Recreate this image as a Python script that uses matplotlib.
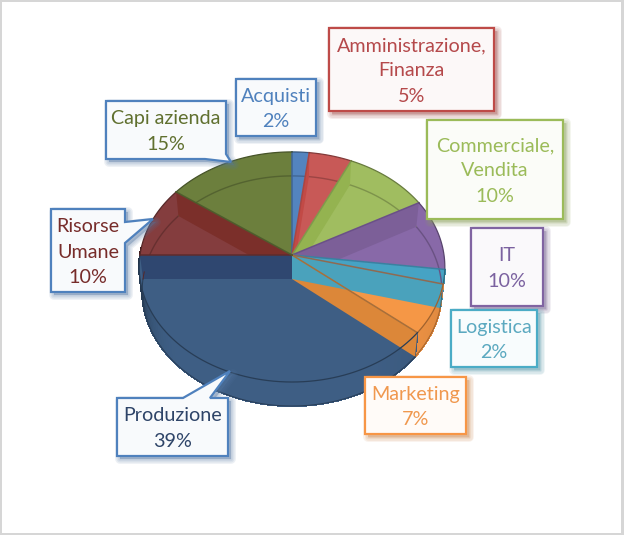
#!/usr/bin/env python3
import numpy as np
import matplotlib
matplotlib.use('Agg')
import matplotlib.pyplot as plt
from matplotlib.colors import to_rgb
from matplotlib.patches import Polygon, Rectangle

plt.rcParams['font.family'] = ['Lato', 'DejaVu Sans']

# data, clockwise from 12 o'clock
categories = ['Acquisti', 'Amministrazione,\nFinanza', 'Commerciale,\nVendita', 'IT', 'Logistica',
              'Marketing', 'Produzione', 'Risorse\nUmane', 'Capi azienda']
values = [2, 5, 10, 10, 2, 7, 39, 10, 15]

# slice colours
top_colors = ['#5384BF', '#C85957', '#A0BD60', '#8869A8', '#46A3C4', '#F59746', '#3E5E84', '#843D3E', '#6C7F3D']
wall_colors = ['#4F7FB8', '#C24A46', '#94B350', '#7C5F98', '#4AA2BC', '#DC8739', '#2F4770', '#7B2F2A', '#5F7035']
edge_colors = ['#3F6596', '#A84643', '#7F9A4B', '#6A5087', '#3A80A0', '#8E6A52', '#A86F3A', '#5F2C2C', '#4E5C2C']
text_colors = ['#4F81BD', '#B5494B', '#9BBB59', '#7B62A0', '#5BA9C0', '#F0984E', '#2E4468', '#772C2A', '#60702F']
border_colors = ['#4F81BD', '#BE4B48', '#9BBB59', '#8064A2', '#4BACC6', '#F79646', '#4F81BD', '#4F81BD', '#4F81BD']

# which radial wall of a slice can be seen, drawn in this order
wall_side = {1: 'start', 2: 'start', 3: 'start', 7: 'end', 6: 'end', 5: 'end', 4: 'end'}

# label boxes in pixels: x0, y0, x1, y1, and the callout tail if there is one
boxes = [
    (236, 79, 316, 136, None),
    (329, 28, 494, 111, None),
    (427, 120, 563, 219, None),
    (471, 228, 543, 306, None),
    (451, 310, 537, 367, None),
    (365, 377, 466, 434, None),
    (117, 398, 228, 456, [(183, 398), (230, 371), (210, 398)]),
    (51, 209, 125, 292, [(125, 222), (153, 219), (125, 243)]),
    (106, 101, 226, 159, [(205, 159), (231, 162), (226, 154)]),
]

# pie geometry, in pixels
CX, CY = 292, 255
A, B, K = 113.8, 152, 0.104
DEPTH = 24
B_LOW = 149


def proj(frac, b=B, dy=0):
    th = 2 * np.pi * np.asarray(frac)
    u, v = np.sin(th), np.cos(th)
    d = 1 + K * v
    return np.column_stack([CX + b * u / d, CY + dy - A * v / d])


def arc(f0, f1, b=B, dy=0):
    n = max(2, int(abs(f1 - f0) * 360))
    return proj(np.linspace(f0, f1, n), b, dy)


def blend(c, other, t):
    c, other = np.array(to_rgb(c)), np.array(to_rgb(other))
    return tuple(c * (1 - t) + other * t)


fig = plt.figure(figsize=(6.24, 5.35), dpi=100, facecolor='white')
ax = fig.add_axes([0, 0, 1, 1])
ax.set_xlim(0, 624)
ax.set_ylim(535, 0)
ax.axis('off')

ax.add_patch(Rectangle((0, 0), 624, 535, fc='#D6D6D6', ec='none', zorder=0))
ax.add_patch(Rectangle((2, 2), 619, 531, fc='white', ec='none', zorder=0))

total = sum(values)
cum = np.concatenate([[0], np.cumsum(values)]) / total
apex = np.array([[CX, CY]])
apex_low = np.array([[CX, CY + DEPTH]])

# front side of the pie, thin strips so it can darken towards the edges
for i in range(len(values)):
    f0, f1 = cum[i], cum[i + 1]
    lo, hi = max(f0, 0.27), min(f1, 0.76)
    if hi <= lo:
        continue
    pts = np.linspace(lo, hi, max(2, int((hi - lo) * 200) + 1))
    for p0, p1 in zip(pts[:-1], pts[1:]):
        mid = (p0 + p1) / 2
        dark = np.clip((mid - 0.62) / 0.13, 0, 1) ** 2 * 0.55
        dark += np.clip((0.42 - mid) / 0.15, 0, 1) * 0.12
        c = blend(top_colors[i], '#000000', dark)
        poly = np.vstack([arc(p0, p1), arc(p1, p0, B_LOW, DEPTH)])
        ax.add_patch(Polygon(poly, fc=c, ec=c, lw=0.8, antialiased=False, zorder=1))

# top faces
sectors = []
for i in range(len(values)):
    poly = np.vstack([apex, arc(cum[i], cum[i + 1])])
    sector = Polygon(poly, fc=top_colors[i], ec='none', zorder=2)
    ax.add_patch(sector)
    sectors.append(sector)

# far rim of the floor, seen through the top faces
for i in range(len(values)):
    lo, hi = cum[i], cum[i + 1]
    for a, b_ in [(max(lo, 0.0), min(hi, 0.27)), (max(lo, 0.76), min(hi, 1.0))]:
        if b_ > a:
            pts = arc(a, b_, B_LOW, DEPTH)
            ax.plot(pts[:, 0], pts[:, 1], color=blend(top_colors[i], '#000000', 0.22),
                    lw=1.0, zorder=2.5, solid_capstyle='butt')

# radial walls
z = 3
for i, side in wall_side.items():
    f = cum[i] if side == 'start' else cum[i + 1]
    wall = np.vstack([apex, proj([f]), proj([f], B_LOW, DEPTH), apex_low])
    patch = Polygon(wall, fc=wall_colors[i], ec='none', zorder=z)
    ax.add_patch(patch)
    if side == 'start' or i == 7:
        patch.set_clip_path(sectors[i])
    z += 0.01

# slice edges and rims
for i in range(len(values)):
    edge = blend(top_colors[i], '#000000', 0.35)
    start = proj([cum[i]])
    ax.plot([CX, start[0, 0]], [CY, start[0, 1]], color=edge_colors[i], lw=1.1, zorder=5)
    rim = arc(cum[i], cum[i + 1])
    ax.plot(rim[:, 0], rim[:, 1], color=edge, lw=0.9, zorder=5)
    if 0.27 < cum[i + 1] and cum[i] < 0.76:
        low = arc(max(cum[i], 0.27), min(cum[i + 1], 0.76), B_LOW, DEPTH)
        ax.plot(low[:, 0], low[:, 1], color=edge, lw=0.7, zorder=5)

# label boxes
for i, (x0, y0, x1, y1, tail) in enumerate(boxes):
    pts = [(x0, y0), (x1, y0), (x1, y1), (x0, y1)]
    if tail is not None:
        # put the tail into the side it leaves from
        if tail[0][1] == y0:
            pts = [(x0, y0)] + tail + [(x1, y0), (x1, y1), (x0, y1)]
        elif tail[0][0] == x1:
            pts = [(x0, y0), (x1, y0)] + tail + [(x1, y1), (x0, y1)]
        else:
            pts = [(x0, y0), (x1, y0), (x1, tail[2][1]), tail[1], tail[0], (x0, y1)]
    pts = np.array(pts, dtype=float)
    shadow_c = blend(border_colors[i], '#666666', 0.3)
    for lw in [7, 5, 3, 1]:
        ax.add_patch(Polygon(pts + [3, 3], fc=shadow_c, ec=shadow_c, lw=lw, alpha=0.11,
                             joinstyle='round', zorder=6))
    ax.add_patch(Polygon(pts, fc=blend(border_colors[i], '#FFFFFF', 0.96), ec=border_colors[i],
                         lw=1.6, joinstyle='miter', zorder=7))
    ax.text((x0 + x1) / 2, (y0 + y1) / 2 + 1.5, f'{categories[i]}\n{values[i]}%', color=text_colors[i],
            fontsize=14.2, ha='center', va='center', linespacing=1.58, zorder=8)

fig.savefig('out.png', dpi=100)
plt.close(fig)
